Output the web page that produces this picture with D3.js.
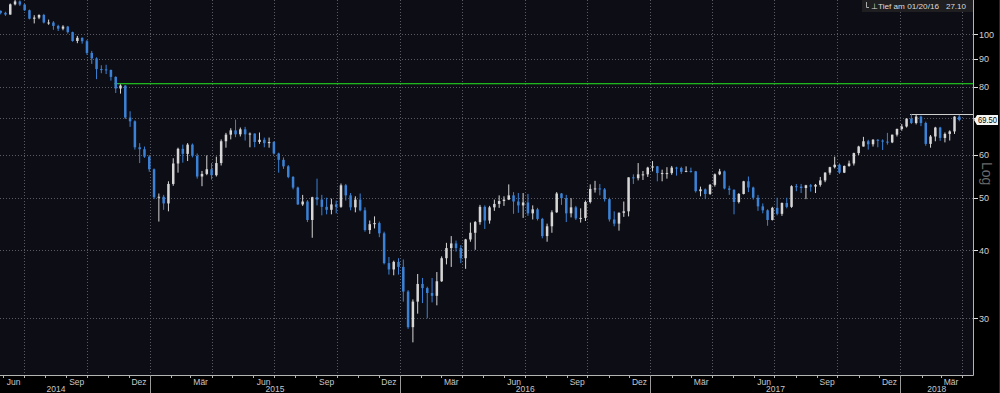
<!DOCTYPE html>
<html><head><meta charset="utf-8">
<script src="https://cdn.jsdelivr.net/npm/d3@7"></script>
<style>html,body{margin:0;padding:0;background:#000;}svg{display:block;}</style>
</head><body>
<svg id="chart" width="1000" height="393"></svg>
<script>
// Weekly OHLC (mid-week dates)
const firstWeek = "2014-05-28";
const openV = [110.3,109.4,108.6,113.4,114.8,113.3,110.6,106.7,107.2,108.4,105.0,105.0,103.5,102.3,103.2,100.8,97.1,98.4,97.0,92.3,90.2,86.2,86.1,85.9,83.4,79.4,80.4,70.2,69.1,61.9,61.4,59.5,
56.4,50.1,50.2,48.8,53.0,57.8,61.5,60.2,62.6,59.7,54.7,55.3,56.4,55.0,57.9,63.5,65.3,66.5,65.4,66.8,65.4,65.6,63.3,63.9,63.0,63.3,60.3,58.7,57.1,54.6,52.2,48.6,49.2,45.5,50.1,49.6,48.1,47.5,48.6,48.1,52.7,50.5,48.0,49.6,47.4,43.6,44.7,44.9,43.0,37.9,36.9,38.1,
37.3,33.6,28.9,32.2,34.7,34.1,33.4,33.0,35.1,38.7,40.4,41.2,40.4,38.7,41.9,43.1,45.1,48.1,45.4,48.0,48.7,49.3,49.6,50.5,49.2,48.4,49.0,46.8,47.6,45.7,42.5,44.3,47.0,50.9,49.9,46.8,48.0,45.8,45.9,49.1,51.9,52.0,51.8,49.7,45.6,44.8,46.9,47.2,54.5,54.3,55.2,55.2,
56.8,57.1,55.5,55.5,55.5,56.8,56.7,55.8,56.0,55.9,51.4,51.8,50.8,52.8,55.2,55.9,52.0,51.7,49.1,50.8,53.6,52.2,50.0,48.2,47.4,45.5,47.9,46.7,48.9,48.1,52.5,52.4,52.1,52.7,52.4,52.8,53.8,55.6,56.9,57.5,55.6,57.2,57.8,60.4,62.1,63.5,62.7,63.9,63.7,63.4,63.2,65.3,
66.9,67.6,69.9,68.6,70.5,68.6,62.8,64.8,67.3,64.4,65.5,66.2,70.5];
const highV = [110.5,109.9,113.8,115.7,115.3,113.5,110.9,108.3,108.7,108.9,106.3,105.6,104.0,103.8,103.5,101.0,99.2,98.6,97.5,93.1,90.6,87.6,87.8,86.0,83.6,80.8,80.5,72.1,69.4,63.0,62.1,59.9,
56.6,50.9,50.6,53.6,59.1,61.8,62.6,63.0,62.9,60.3,56.0,59.8,57.9,59.5,64.0,65.8,67.1,69.6,67.3,67.5,65.9,65.7,65.9,64.5,64.5,63.5,60.5,59.3,57.4,54.8,52.4,50.6,49.5,50.2,54.2,50.6,50.0,49.8,49.4,53.1,53.0,51.0,50.3,50.9,48.0,45.4,46.2,45.2,43.3,38.9,38.3,38.7,
38.5,33.8,32.5,36.2,35.6,34.3,35.6,36.5,39.0,41.3,42.5,41.7,40.9,42.0,45.0,45.3,48.5,48.4,48.3,49.6,50.5,50.3,52.9,51.2,51.0,51.0,50.8,48.4,47.9,45.9,44.8,47.4,51.2,51.0,50.6,49.9,48.3,47.8,49.4,52.9,53.7,53.0,52.1,50.0,47.2,47.0,49.2,54.5,55.2,57.9,56.0,57.0,
58.4,57.2,56.3,56.9,57.2,57.0,57.0,57.1,56.8,56.0,52.4,52.0,53.0,55.4,56.5,56.1,52.6,51.8,51.0,53.7,54.7,52.4,50.6,48.8,47.6,48.1,50.0,49.0,50.0,52.7,53.0,53.0,52.8,53.0,53.0,54.6,55.7,57.0,59.5,57.8,57.3,58.5,60.5,62.3,64.7,63.9,64.1,64.1,64.0,65.8,65.3,67.0,
68.3,70.0,71.3,71.0,70.8,69.0,65.2,67.5,67.5,65.9,66.5,70.6,71.0];
const lowV = [108.7,108.0,108.5,112.9,112.6,110.3,106.4,104.6,106.5,104.6,104.0,101.8,101.3,101.6,100.2,96.8,96.2,96.0,91.6,88.1,82.6,84.7,84.4,82.1,77.9,77.7,69.8,67.5,61.3,57.9,59.2,55.8,
49.7,45.2,47.5,47.2,52.6,55.6,58.0,58.4,59.3,54.2,52.5,55.0,54.0,54.7,57.3,61.8,64.0,64.6,64.8,63.7,61.9,61.9,62.8,61.9,61.8,60.0,55.6,56.5,54.3,51.8,48.5,48.3,45.1,42.2,48.4,46.4,46.6,46.6,46.8,47.9,49.4,47.4,47.0,47.2,43.3,42.9,43.9,42.3,37.7,36.1,36.0,36.1,
32.2,28.7,27.1,30.6,32.0,30.0,32.1,31.7,35.0,37.7,37.3,39.8,37.9,37.0,41.5,40.1,44.6,43.8,44.8,47.3,47.9,48.3,49.5,46.7,46.9,45.9,46.3,45.6,45.4,42.1,41.5,43.1,46.9,48.5,45.1,46.0,45.5,45.0,45.3,48.8,51.1,50.5,49.2,45.2,44.3,43.5,46.1,46.2,53.0,53.8,53.9,54.6,
55.9,53.6,53.6,54.2,55.1,54.9,55.3,55.7,55.6,51.1,50.3,49.7,50.6,52.4,55.0,51.8,50.6,46.6,48.8,50.7,51.2,49.6,47.3,46.8,44.4,45.4,46.4,46.3,47.8,47.9,51.4,51.0,49.7,51.3,51.0,52.4,53.4,55.1,56.6,55.3,55.5,57.0,57.3,59.9,62.1,61.3,62.1,61.9,61.2,62.6,63.0,64.8,
66.4,67.3,68.3,68.2,67.7,62.3,61.8,63.5,63.6,63.2,63.7,65.5,69.1];
const closeV = [109.4,108.6,113.4,114.8,113.3,110.6,106.7,107.2,108.4,105.0,105.0,103.5,102.3,103.2,100.8,97.1,98.4,97.0,92.3,90.2,86.2,86.1,85.9,83.4,79.4,80.4,70.2,69.1,61.9,61.4,59.5,56.4,
50.1,50.2,48.8,53.0,57.8,61.5,60.2,62.6,59.7,54.7,55.3,56.4,55.0,57.9,63.5,65.3,66.5,65.4,66.8,65.4,65.6,63.3,63.9,63.0,63.3,60.3,58.7,57.1,54.6,52.2,48.6,49.2,45.5,50.1,49.6,48.1,47.5,48.6,48.1,52.7,50.5,48.0,49.6,47.4,43.6,44.7,44.9,43.0,37.9,36.9,38.1,37.3,
33.6,28.9,32.2,34.7,34.1,33.4,33.0,35.1,38.7,40.4,41.2,40.4,38.7,41.9,43.1,45.1,48.1,45.4,48.0,48.7,49.3,49.6,50.5,49.2,48.4,49.0,46.8,47.6,45.7,42.5,44.3,47.0,50.9,49.9,46.8,48.0,45.8,45.9,49.1,51.9,52.0,51.8,49.7,45.6,44.8,46.9,47.2,54.5,54.3,55.2,55.2,56.8,
57.1,55.5,55.5,55.5,56.8,56.7,55.8,56.0,55.9,51.4,51.8,50.8,52.8,55.2,55.9,52.0,51.7,49.1,50.8,53.6,52.2,50.0,48.2,47.4,45.5,47.9,46.7,48.9,48.1,52.5,52.4,52.1,52.7,52.4,52.8,53.8,55.6,56.9,57.5,55.6,57.2,57.8,60.4,62.1,63.5,62.7,63.9,63.7,63.4,63.2,65.3,66.9,
67.6,69.9,68.6,70.5,68.6,62.8,64.8,67.3,64.4,65.5,66.2,70.5,69.5];

const yTicks = [30, 40, 50, 60, 70, 80, 90, 100];
const yTickLabels = ["30", "40", "50", "60", "", "80", "90", "100"];
const monthLabels = ["Jun", "Sep", "Dez", "Mär"];
const years = ["2014", "2015", "2016", "2017", "2018"];
const lastPrice = 69.50;
const lastPriceLabel = "69.50";
const greenLevel = 81.3;
const greenStart = "2014-11-10";
const highLevel = 71.3;
const highStart = "2018-01-15";
const legendText = "Tief am 01/20/16";
const legendValue = "27.10";

const W = 1000, H = 393, PR = 973, PB = 375;
const FONT = "Liberation Sans, Arial, sans-serif";
const svg = d3.select("#chart");
const parse = d3.timeParse("%Y-%m-%d");
const start = parse(firstWeek);
const data = openV.map((o, i) => ({
  date: d3.timeDay.offset(start, 7 * i),
  o, h: highV[i], l: lowV[i], c: closeV[i]
}));

const x = d3.scaleTime().domain([new Date(2014, 4, 27), new Date(2018, 3, 17)]).range([0, PR]);
const y = d3.scaleLog().domain([23.6, 115.5]).range([PB, 0]);

svg.append("rect").attr("width", W).attr("height", H).attr("fill", "#000");
svg.append("rect").attr("width", PR).attr("height", PB).attr("fill", "#0d0d15");

// gridlines
const quarters = d3.timeMonth.every(3).range(new Date(2014, 6, 1), new Date(2018, 3, 2));
svg.append("g").selectAll("line").data(quarters).join("line")
  .attr("x1", d => Math.round(x(d)) + 0.5).attr("x2", d => Math.round(x(d)) + 0.5)
  .attr("y1", 0).attr("y2", PB)
  .attr("stroke", "#5a5a62").attr("stroke-width", 1).attr("stroke-dasharray", "1,2");
svg.append("g").selectAll("line").data(yTicks).join("line")
  .attr("x1", 0).attr("x2", PR)
  .attr("y1", d => Math.round(y(d)) + 0.5).attr("y2", d => Math.round(y(d)) + 0.5)
  .attr("stroke", "#5a5a62").attr("stroke-width", 1).attr("stroke-dasharray", "1,2");

// reference lines
svg.append("rect").attr("x", x(parse(greenStart))).attr("width", PR - x(parse(greenStart)))
  .attr("y", Math.round(y(greenLevel))).attr("height", 1.3)
  .attr("fill", "#1fb51f");
svg.append("line").attr("x1", x(parse(highStart))).attr("x2", PR)
  .attr("y1", Math.round(y(highLevel)) + 0.5).attr("y2", Math.round(y(highLevel)) + 0.5)
  .attr("stroke", "#cfcfcf").attr("stroke-width", 1);

// candles
const upC = "#d6d6d6", dnC = "#3b82d6";
const g = svg.append("g");
g.selectAll("line").data(data).join("line")
  .attr("x1", d => x(d.date)).attr("x2", d => x(d.date))
  .attr("y1", d => y(d.h)).attr("y2", d => y(d.l))
  .attr("stroke", d => d.c >= d.o ? upC : dnC).attr("stroke-width", 1);
g.selectAll("rect").data(data).join("rect")
  .attr("x", d => x(d.date) - 1.25).attr("width", 2.5)
  .attr("y", d => y(Math.max(d.o, d.c)))
  .attr("height", d => Math.max(1, Math.abs(y(d.o) - y(d.c))))
  .attr("fill", d => d.c >= d.o ? upC : dnC);

// axes lines
svg.append("line").attr("x1", 0).attr("x2", PR + 0.5).attr("y1", PB + 0.5).attr("y2", PB + 0.5).attr("stroke", "#b4b4b4");
svg.append("line").attr("x1", PR + 0.5).attr("x2", PR + 0.5).attr("y1", 0).attr("y2", PB + 0.5).attr("stroke", "#b4b4b4");
svg.append("line").attr("x1", 999.5).attr("x2", 999.5).attr("y1", 0).attr("y2", H).attr("stroke", "#2a2a2a");

// right axis
const ra = svg.append("g");
ra.selectAll("line").data(yTicks).join("line")
  .attr("x1", PR + 1).attr("x2", PR + 5)
  .attr("y1", d => Math.round(y(d)) + 0.5).attr("y2", d => Math.round(y(d)) + 0.5)
  .attr("stroke", "#e0e0e0");
ra.selectAll("text").data(yTicks).join("text")
  .attr("x", PR + 6).attr("y", d => y(d) + 3.5)
  .attr("fill", "#d0d0d0").attr("font-family", FONT).attr("font-size", 9)
  .text((d, i) => yTickLabels[i]);

svg.append("text").attr("transform", "translate(982,162) rotate(90)")
  .attr("fill", "#6a6a6a").attr("font-family", FONT).attr("font-size", 14)
  .text("Log");

// last price tag
const ly = y(lastPrice);
svg.append("path")
  .attr("d", `M${PR + 1},${ly} L${PR + 4},${ly - 5} L${PR + 25},${ly - 5} L${PR + 25},${ly + 5} L${PR + 4},${ly + 5} Z`)
  .attr("fill", "#f4f4f4");
svg.append("text").attr("x", PR + 5).attr("y", ly + 3.2)
  .attr("textLength", 19).attr("lengthAdjust", "spacingAndGlyphs")
  .attr("fill", "#000").attr("font-family", FONT).attr("font-size", 8.5)
  .text(lastPriceLabel);

// bottom axis: month ticks
const months = d3.timeMonth.range(new Date(2014, 5, 1), new Date(2018, 3, 17));
svg.append("g").selectAll("line").data(months).join("line")
  .attr("x1", d => Math.round(x(d)) + 0.5).attr("x2", d => Math.round(x(d)) + 0.5)
  .attr("y1", PB + 1).attr("y2", PB + 3).attr("stroke", "#b4b4b4");
const labMonths = d3.timeMonth.range(new Date(2014, 5, 1), new Date(2018, 3, 1)).filter(d => [5, 8, 11, 2].includes(d.getMonth()));
svg.append("g").selectAll("text").data(labMonths).join("text")
  .attr("x", d => x(d3.timeDay.offset(d, 15))).attr("y", PB + 9.5).attr("text-anchor", "middle")
  .attr("fill", "#c8c8c8").attr("font-family", FONT).attr("font-size", 8.5)
  .text(d => monthLabels[[5, 8, 11, 2].indexOf(d.getMonth())]);
// year separators and labels
const yearStarts = [new Date(2015, 0, 1), new Date(2016, 0, 1), new Date(2017, 0, 1), new Date(2018, 0, 1)];
svg.append("g").selectAll("line").data(yearStarts).join("line")
  .attr("x1", d => Math.round(x(d)) + 0.5).attr("x2", d => Math.round(x(d)) + 0.5)
  .attr("y1", PB).attr("y2", H).attr("stroke", "#9a9a9a");
const yearBounds = [-38, ...yearStarts.map(d => x(d)), PR];
svg.append("g").selectAll("text").data(years).join("text")
  .attr("x", (d, i) => (yearBounds[i] + yearBounds[i + 1]) / 2).attr("y", 392).attr("text-anchor", "middle")
  .attr("fill", "#c8c8c8").attr("font-family", FONT).attr("font-size", 8.5)
  .text(d => d);

// legend
svg.append("rect").attr("x", 862).attr("y", 0).attr("width", PR - 862).attr("height", 12).attr("fill", "#1f1f22");
svg.append("path").attr("d", "M866.5,2 L866.5,7.5 L869,7.5").attr("stroke", "#aaa").attr("fill", "none");
svg.append("text").attr("x", 871).attr("y", 9).attr("fill", "#dcdcdc")
  .attr("font-family", FONT).attr("font-size", 8)
  .text("\u22A5");
svg.append("text").attr("x", 878).attr("y", 9).attr("fill", "#dcdcdc")
  .attr("textLength", 61).attr("lengthAdjust", "spacingAndGlyphs")
  .attr("font-family", FONT).attr("font-size", 8)
  .text(legendText);
svg.append("text").attr("x", 966).attr("y", 9).attr("text-anchor", "end").attr("fill", "#dcdcdc")
  .attr("font-family", FONT).attr("font-size", 8)
  .text(legendValue);
</script>
</body></html>
